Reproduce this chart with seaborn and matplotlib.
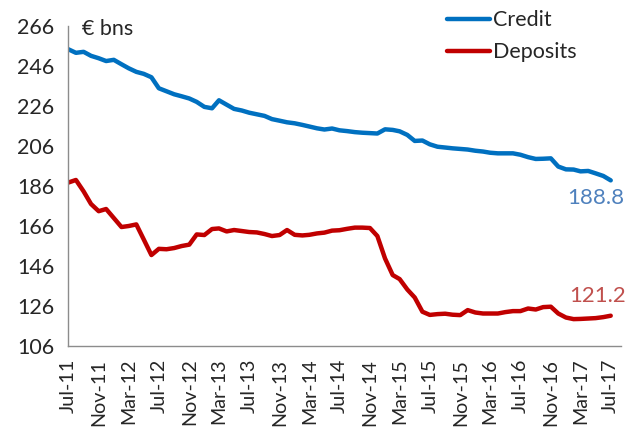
import pandas as pd
import seaborn as sns
import matplotlib.pyplot as plt
import matplotlib.dates as mdates

# monthly series, Jul-11 .. Jul-17 (EUR bns)
dates = pd.date_range("2011-07-01", "2017-07-01", freq="MS")

credit = [254.3, 252.5, 253.0, 251.0, 249.8, 248.4, 249.0, 246.8, 244.8, 243.0,
          242.0, 240.3, 234.8, 233.3, 231.8, 230.8, 229.7, 228.0, 225.5, 224.8,
          228.8, 226.6, 224.5, 223.7, 222.6, 221.8, 221.0, 219.4, 218.6, 217.8,
          217.3, 216.5, 215.7, 214.8, 214.2, 214.7, 213.8, 213.4, 212.9, 212.6,
          212.4, 212.2, 214.3, 214.0, 213.3, 211.5, 208.5, 208.7, 206.8, 205.6,
          205.2, 204.8, 204.5, 204.2, 203.6, 203.2, 202.6, 202.3, 202.3, 202.3,
          201.6, 200.4, 199.5, 199.6, 199.8, 195.7, 194.3, 194.2, 193.3, 193.5,
          192.3, 191.0, 188.8]

deposits = [187.7, 189.0, 183.3, 177.0, 173.4, 174.5, 170.0, 165.5, 166.0, 166.8,
            159.3, 151.5, 154.6, 154.4, 155.0, 156.0, 156.7, 161.8, 161.5, 164.5,
            164.8, 163.3, 164.0, 163.5, 163.0, 162.8, 162.0, 161.0, 161.5, 164.0,
            161.6, 161.3, 161.6, 162.3, 162.7, 163.7, 163.9, 164.6, 165.2, 165.2,
            165.0, 161.0, 149.8, 141.5, 139.5, 134.3, 130.3, 123.2, 121.6, 122.0,
            122.2, 121.7, 121.5, 124.0, 122.8, 122.3, 122.3, 122.3, 123.0, 123.5,
            123.5, 124.8, 124.3, 125.5, 125.7, 122.3, 120.3, 119.5, 119.6, 119.8,
            120.0, 120.5, 121.2]

df = pd.DataFrame({"Date": dates, "Credit": credit, "Deposits": deposits})
long_df = df.melt(id_vars="Date", var_name="Series", value_name="Value")

sns.set_style("white")
plt.rcParams["font.family"] = ["Lato", "DejaVu Sans"]

fig = plt.figure(figsize=(6.32, 4.30), dpi=100)
ax = fig.add_axes([0.108, 0.195, 0.874, 0.745])

colors = {"Credit": "#0070C0", "Deposits": "#C00000"}
sns.lineplot(data=long_df, x="Date", y="Value", hue="Series", palette=colors,
             linewidth=3.2, ax=ax, solid_capstyle="round")

ax.set_ylim(106, 266)
ax.set_yticks(range(106, 267, 20))
ax.set_xlim(pd.Timestamp("2011-07-01"), pd.Timestamp("2017-08-10"))
ax.xaxis.set_major_locator(mdates.MonthLocator(bymonth=[3, 7, 11]))
ax.xaxis.set_major_formatter(mdates.DateFormatter("%b-%y"))
plt.setp(ax.get_xticklabels(), rotation=90)

ax.set_xlabel("")
ax.set_ylabel("")
for s in ["top", "right"]:
    ax.spines[s].set_visible(False)
for s in ["left", "bottom"]:
    ax.spines[s].set_color("#8c8c8c")
    ax.spines[s].set_linewidth(1.0)
ax.tick_params(axis="both", direction="out", length=6, width=1.0,
               color="#8c8c8c", pad=4)
ax.tick_params(axis="y", labelsize=15.5)
ax.tick_params(axis="x", labelsize=14.2, pad=3)

ax.text(0.025, 1.02, "€ bns", transform=ax.transAxes, fontsize=15.5,
        va="top", ha="left")

ax.annotate("188.8", (df["Date"].iloc[-1], credit[-1]), xytext=(10, -13),
            textcoords="offset points", ha="right", va="center",
            color="#4F81BD", fontsize=16)
ax.annotate("121.2", (df["Date"].iloc[-1], deposits[-1]), xytext=(11, 14),
            textcoords="offset points", ha="right", va="center",
            color="#C0504D", fontsize=16)

ax.legend(loc="upper left", bbox_to_anchor=(0.67, 1.075), frameon=False,
          fontsize=15.5, handlelength=2.0, handletextpad=0.15,
          labelspacing=0.55, borderaxespad=0)

fig.savefig("out.png", dpi=100)
